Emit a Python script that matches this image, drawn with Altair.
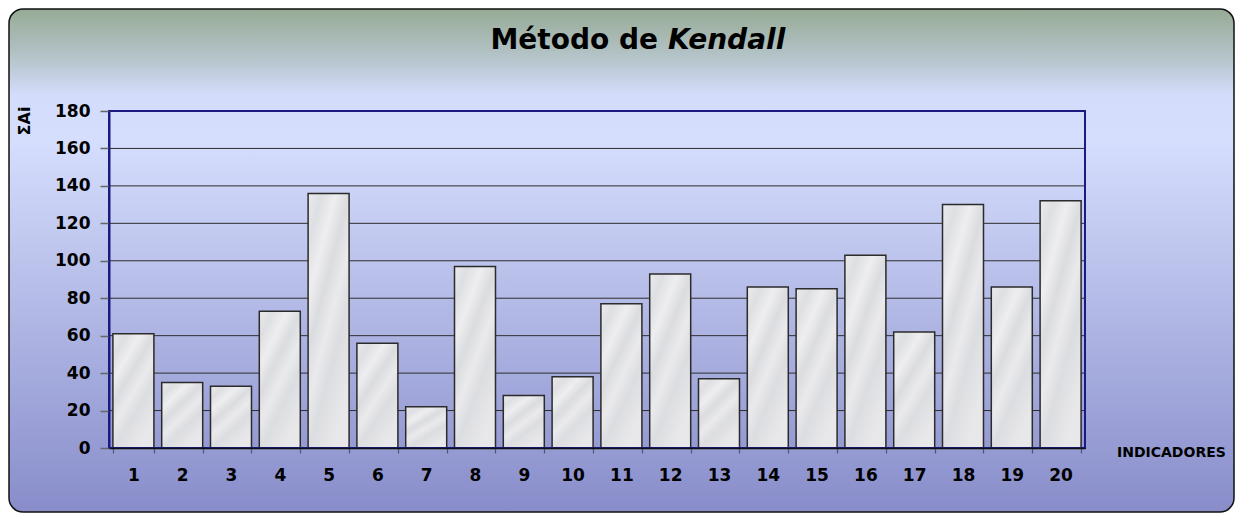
import altair as alt
import pandas as pd

# ---- data ----
indicadores = ["1", "2", "3", "4", "5", "6", "7", "8", "9", "10",
               "11", "12", "13", "14", "15", "16", "17", "18", "19", "20"]
valores = [61, 35, 33, 73, 136, 56, 22, 97, 28, 38,
           77, 93, 37, 86, 85, 103, 62, 130, 86, 132]
y_ticks = [0, 20, 40, 60, 80, 100, 120, 140, 160, 180]

titulo_a = "Método de"
titulo_b = "Kendall"
eixo_y = "ΣAi"
eixo_x = "INDICADORES"

W, H = 976, 337
FONT = "DejaVu Sans"

df = pd.DataFrame({"indicador": indicadores, "valor": valores})
grid_df = pd.DataFrame({"valor": y_ticks})
one = pd.DataFrame({"k": [0]})

bg_grad = {
    "gradient": "linear", "x1": 0, "y1": 0, "x2": 0, "y2": 1,
    "stops": [
        {"offset": 0.0, "color": "#96ab95"},
        {"offset": 0.09, "color": "#b3c2c6"},
        {"offset": 0.17, "color": "#d3dcfa"},
        {"offset": 0.26, "color": "#d5defd"},
        {"offset": 1.0, "color": "#888dca"},
    ],
}
bar_grad = {
    "gradient": "linear", "x1": 0, "y1": 0, "x2": 0.6, "y2": 1,
    "stops": [
        {"offset": 0.0, "color": "#ebebed"},
        {"offset": 0.15, "color": "#dedfe2"},
        {"offset": 0.3, "color": "#eeeef0"},
        {"offset": 0.45, "color": "#dbdcdf"},
        {"offset": 0.6, "color": "#eaeaed"},
        {"offset": 0.75, "color": "#dcdde0"},
        {"offset": 1.0, "color": "#e8e8eb"},
    ],
}

yscale = alt.Scale(domain=[0, 180])
yaxis = alt.Axis(
    values=y_ticks, title=None, grid=False, tickSize=9,
    tickColor="#666666", tickWidth=1.5, domainColor="#1a1a80",
    domainWidth=2, labelFont=FONT, labelFontWeight="bold",
    labelFontSize=17, labelColor="#000000", labelPadding=10, zindex=1,
)

background = alt.Chart(one).mark_rect(
    fill=bg_grad, stroke="#111111", strokeWidth=1.5, cornerRadius=14
).encode(
    x=alt.value(-100), x2=alt.value(1125), y=alt.value(-102), y2=alt.value(401)
)

grid = alt.Chart(grid_df).mark_rule(color="#2e2e2e", strokeWidth=1).encode(
    y=alt.Y("valor:Q", scale=yscale, axis=yaxis)
)

bars = alt.Chart(df).mark_bar(
    fill=bar_grad, stroke="#2b2b2b", strokeWidth=1.5
).encode(
    x=alt.X(
        "indicador:N", sort=indicadores,
        scale=alt.Scale(paddingInner=0.16, paddingOuter=0.08),
        axis=alt.Axis(
            title=None, labelAngle=0, tickBand="extent", tickSize=5,
            tickColor="#555577", tickWidth=1.2, domainColor="#111111",
            domainWidth=1.5, labelFont=FONT, labelFontWeight="bold",
            labelFontSize=17, labelColor="#000000", labelPadding=14, zindex=1,
        ),
    ),
    y=alt.Y("valor:Q", scale=yscale, axis=yaxis),
)

frame = alt.Chart(one).mark_rect(
    fill=None, fillOpacity=0, stroke="#1a1a80", strokeWidth=2
).encode(
    x=alt.value(0), x2=alt.value(W), y=alt.value(0), y2=alt.value(H)
)

t1 = alt.Chart(one).mark_text(
    text=titulo_a, font=FONT, fontWeight="bold", fontSize=28, align="right",
    baseline="alphabetic", color="#000000"
).encode(x=alt.value(549), y=alt.value(-62))

t2 = alt.Chart(one).mark_text(
    text=titulo_b, font=FONT, fontWeight="bold", fontStyle="italic",
    fontSize=28, align="left", baseline="alphabetic", color="#000000"
).encode(x=alt.value(559), y=alt.value(-62))

ylab = alt.Chart(one).mark_text(
    text=eixo_y, font=FONT, fontWeight="bold", fontSize=16, angle=270,
    align="center", baseline="middle", color="#000000"
).encode(x=alt.value(-84), y=alt.value(10))

xlab = alt.Chart(one).mark_text(
    text=eixo_x, font=FONT, fontWeight="bold", fontSize=14, align="left",
    baseline="middle", color="#000000"
).encode(x=alt.value(1008), y=alt.value(342))

chart = alt.layer(background, grid, bars, frame, t1, t2, ylab, xlab).properties(
    width=W, height=H,
    autosize=alt.AutoSizeParams(type="none"),
    padding={"left": 101, "top": 103, "right": 150, "bottom": 65},
).configure_view(stroke=None)

chart.save("out.html", embed_options={"renderer": "svg", "actions": False})
